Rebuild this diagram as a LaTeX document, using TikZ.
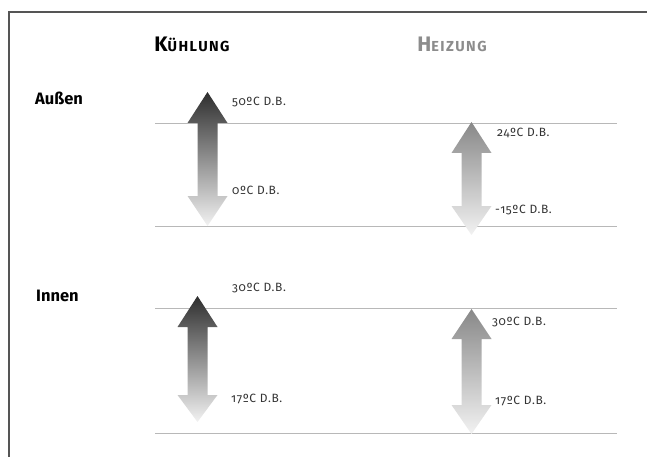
\documentclass[tikz,border=0pt]{standalone}
\usepackage{fontspec}
\setmainfont{Fira Sans}[Numbers=OldStyle]
\definecolor{framegray}{HTML}{555555}
\definecolor{rulegray}{HTML}{B8B8B8}
\definecolor{txtgray}{HTML}{333333}
\definecolor{headgray}{HTML}{8C8C8C}
\definecolor{colddark}{HTML}{2E2E2E}
\definecolor{warmdark}{HTML}{888888}
\definecolor{palegray}{HTML}{F2F2F2}
\newcommand{\capsize}{\fontsize{14.5}{14.5}\selectfont\addfontfeature{LetterSpace=10}}

\begin{document}
\begin{tikzpicture}[x=1pt, y=-1pt]

      \tikzset{heading/.style={font=\fontsize{21}{21}\selectfont\bfseries, inner sep=0pt, anchor=base},
               rowlabel/.style={font=\fontsize{16.5}{17}\selectfont\bfseries, text=black, inner sep=0pt, anchor=base west},
               templabel/.style={font=\fontsize{12}{12}\selectfont\addfontfeature{LetterSpace=5}, text=txtgray, anchor=west, inner sep=0pt},
               level/.style={draw=rulegray, line width=0.8pt}}
      \useasboundingbox (0,0) rectangle (647,457);
%% Frame
      	\draw[framegray, line width=1.5pt] (9,457) -- (9,12) -- (647,12);
%% Headings
      	\node[heading, text=black] (kuehlung) at (192,52) {K{\capsize ÜHLUNG}};
      	\node[heading, text=headgray] (heizung) at (452,52) {H{\capsize EIZUNG}};
      	\node[rowlabel] (aussen) at (35,105) {Außen};
      	\node[rowlabel] (innen) at (36,301.5) {Innen};
%% Levels
      	\draw[level] (155,123) -- (617,123);
      	\draw[level] (155,226) -- (617,226);
      	\draw[level] (155,308) -- (617,308);
      	\draw[level] (155,433) -- (617,433);
%% Arrows
		\shade[top color=colddark, bottom color=palegray] (207.5,92) -- ++(20,31) -- ++(-10,0) -- (217.5,196) -- ++(10,0) -- (207.5,226) -- ++(-20,-30) -- ++(10,0) -- (197.5,123) -- ++(-10,0) -- cycle;
		\shade[top color=warmdark, bottom color=palegray] (471.5,122) -- ++(20,31) -- ++(-10,0) -- (481.5,206) -- ++(10,0) -- (471.5,235) -- ++(-20,-29) -- ++(10,0) -- (461.5,153) -- ++(-10,0) -- cycle;
		\shade[top color=colddark, bottom color=palegray] (197.5,296) -- ++(20,31) -- ++(-10,0) -- (207.5,395) -- ++(10,0) -- (197.5,422) -- ++(-20,-27) -- ++(10,0) -- (187.5,327) -- ++(-10,0) -- cycle;
		\shade[top color=warmdark, bottom color=palegray] (471.5,309) -- ++(20,30) -- ++(-10,0) -- (481.5,405) -- ++(10,0) -- (471.5,434) -- ++(-20,-29) -- ++(10,0) -- (461.5,339) -- ++(-10,0) -- cycle;
%% Temperatures
		\node[templabel] (k-aus-max) at (232,102) {50ºC D.B.};
		\node[templabel] (k-aus-min) at (232,190) {0ºC D.B.};
		\node[templabel] (h-aus-max) at (497,133) {24ºC D.B.};
		\node[templabel] (h-aus-min) at (495,210) {-15ºC D.B.};
		\node[templabel] (k-in-max) at (232,288) {30ºC D.B.};
		\node[templabel] (k-in-min) at (231,399) {17ºC D.B.};
		\node[templabel] (h-in-max) at (492,322) {30ºC D.B.};
		\node[templabel] (h-in-min) at (495,401) {17ºC D.B.};

\end{tikzpicture}
\end{document}
